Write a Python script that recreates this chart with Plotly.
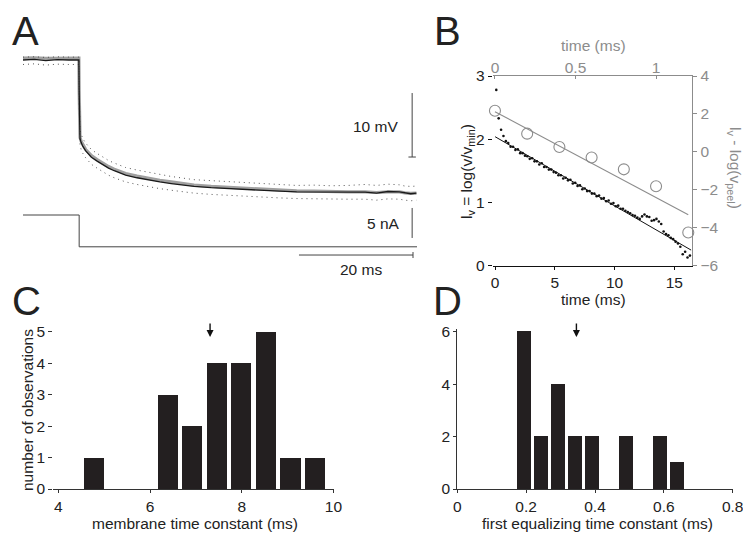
import plotly.graph_objects as go

W, H = 751, 540
OFF = 8  # the page body margin shifts the figure by this many pixels

# ---------------- Panel A data (time in ms, voltage in mV rel. baseline, current nA)
tA = [0, 2, 4, 6, 8, 9.8, 9.85, 9.9, 10.0, 10.2, 10.5, 11, 11.5, 12, 13, 14, 15, 16,
      18, 20, 22, 24, 26, 28, 30, 33, 36, 39, 42, 45, 48, 51, 54, 57, 60, 62, 64, 66, 67, 68, 69]
vMean = [0.0, 0.1, -0.1, 0.05, 0.0, 0.0, -5.0, -11.0, -12.3, -12.9, -13.5,
         -14.2, -14.7, -15.2, -15.8, -16.4, -16.9, -17.3,
         -18.0, -18.4, -18.75, -19.05, -19.3, -19.55, -19.75,
         -19.95, -20.1, -20.3, -20.4, -20.5, -20.6, -20.6, -20.7, -20.7, -20.65,
         -20.8, -20.55, -20.6, -20.8, -20.9, -20.8]
vGray = [0.3, 0.35, 0.25, 0.3, 0.3, 0.3, -4.8, -10.8, -12.1, -12.7, -13.3,
         -14.0, -14.45, -14.95, -15.55, -16.15, -16.65, -17.05,
         -17.75, -18.15, -18.5, -18.8, -19.05, -19.3, -19.55,
         -19.75, -19.9, -20.1, -20.25, -20.35, -20.45, -20.5, -20.6, -20.6, -20.6,
         -20.7, -20.6, -20.6, -20.75, -20.85, -20.8]
vUpper = [0.45, 0.5, 0.4, 0.5, 0.45, 0.45, -3.8, -9.8, -11.0, -11.6, -12.3,
          -13.0, -13.5, -14.0, -14.6, -15.2, -15.7, -16.1,
          -16.8, -17.2, -17.55, -17.9, -18.2, -18.45, -18.7,
          -18.85, -19.0, -19.2, -19.35, -19.5, -19.6, -19.55, -19.65, -19.6, -19.45,
          -19.6, -19.4, -19.5, -19.7, -19.75, -19.7]
vLower = [-0.7, -0.6, -0.8, -0.65, -0.7, -0.7, -6.5, -12.0, -13.3, -14.0, -14.6,
          -15.3, -15.8, -16.3, -16.9, -17.5, -18.0, -18.4,
          -19.05, -19.45, -19.8, -20.1, -20.35, -20.6, -20.8,
          -21.0, -21.15, -21.35, -21.45, -21.55, -21.65, -21.7, -21.8, -21.75, -21.75,
          -21.9, -21.7, -21.75, -21.9, -22.0, -21.9]
tCur = [0, 9.85, 9.85, 69.1]
iCur = [0, 0, -5.3, -5.3]

# ---------------- Panel B data
tB = [0.1, 0.3, 0.5, 0.7, 0.9, 1.1, 1.3, 1.5, 1.7, 1.9,
      2.1, 2.3, 2.5, 2.7, 2.9, 3.1, 3.3, 3.5, 3.7, 3.9,
      4.1, 4.3, 4.5, 4.7, 4.9, 5.1, 5.3, 5.5, 5.7, 5.9,
      6.1, 6.3, 6.5, 6.7, 6.9, 7.1, 7.3, 7.5, 7.7, 7.9,
      8.1, 8.3, 8.5, 8.7, 8.9, 9.1, 9.3, 9.5, 9.7, 9.9,
      10.1, 10.3, 10.5, 10.7, 10.9, 11.1, 11.3, 11.5, 11.7, 11.9,
      12.1, 12.3, 12.5, 12.7, 12.9, 13.1, 13.3, 13.5, 13.7, 13.9,
      14.1, 14.3, 14.5, 14.7, 14.9, 15.1, 15.3, 15.5, 15.7, 15.9,
      16.1, 16.3]
lvB = [2.78, 2.33, 2.15, 2.05, 1.97, 1.94, 1.88, 1.88, 1.83, 1.84,
       1.78, 1.78, 1.74, 1.73, 1.69, 1.70, 1.65, 1.65, 1.60, 1.62,
       1.56, 1.56, 1.52, 1.52, 1.48, 1.47, 1.43, 1.43, 1.38, 1.39,
       1.35, 1.36, 1.30, 1.31, 1.26, 1.27, 1.21, 1.22, 1.18, 1.18,
       1.14, 1.14, 1.10, 1.11, 1.06, 1.07, 1.02, 1.03, 0.98, 0.99,
       0.94, 0.95, 0.90, 0.90, 0.87, 0.85, 0.83, 0.80, 0.79, 0.76,
       0.74, 0.78, 0.81, 0.78, 0.77, 0.71, 0.72, 0.74, 0.70, 0.66,
       0.54, 0.50, 0.48, 0.44, 0.42, 0.38, 0.35, 0.30, 0.18, 0.22,
       0.13, 0.16]
tFit = [0, 16.4]
lvFit = [2.04, 0.247]
tPeel = [0, 0.2, 0.4, 0.6, 0.8, 1.0, 1.2]
peel = [2.17, 0.96, 0.26, -0.30, -0.92, -1.81, -4.25]
tPeelFit = [0, 1.2]
peelFit = [2.12, -3.31]

# ---------------- Panel C data
tauM_centers = [4.79, 5.33, 5.86, 6.40, 6.93, 7.47, 8.00, 8.54, 9.07, 9.61]
tauM_counts = [1, 0, 0, 3, 2, 4, 4, 5, 1, 1]
tauM_mean = 7.31

# ---------------- Panel D data
tau1_centers = [0.194, 0.2435, 0.293, 0.3425, 0.392, 0.4415, 0.491, 0.5405, 0.590, 0.6395]
tau1_counts = [6, 2, 4, 2, 2, 0, 2, 0, 2, 1]
tau1_mean = 0.346

FONT = "Liberation Sans, Arial, sans-serif"
GRAY = "#8c8c8c"
AX = "#333333"
FS = 15.5


def px(x):
    return (x - OFF) / W


def py(y):
    return 1 - (y - OFF) / H


fig = go.Figure()

# Panel A traces
fig.add_trace(go.Scatter(x=tA, y=vGray, mode="lines", line=dict(color="#a0a0a0", width=3.2),
                         xaxis="x", yaxis="y", showlegend=False))
fig.add_trace(go.Scatter(x=tA, y=vUpper, mode="lines", line=dict(color="#555", width=1, dash="1px,4px"),
                         xaxis="x", yaxis="y", showlegend=False))
fig.add_trace(go.Scatter(x=tA, y=vLower, mode="lines", line=dict(color="#555", width=1, dash="1px,4px"),
                         xaxis="x", yaxis="y", showlegend=False))
fig.add_trace(go.Scatter(x=tA, y=vMean, mode="lines", line=dict(color="#1a1a1a", width=1.3),
                         xaxis="x", yaxis="y", showlegend=False))
fig.add_trace(go.Scatter(x=tCur, y=iCur, mode="lines", line=dict(color="#444", width=1),
                         xaxis="x", yaxis="y6", showlegend=False))

# Panel B traces
fig.add_trace(go.Scatter(x=tFit, y=lvFit, mode="lines", line=dict(color="#111", width=1),
                         xaxis="x2", yaxis="y2", showlegend=False))
fig.add_trace(go.Scatter(x=tB, y=lvB, mode="markers", marker=dict(color="#111", size=2.6),
                         xaxis="x2", yaxis="y2", showlegend=False))
fig.add_trace(go.Scatter(x=tPeelFit, y=peelFit, mode="lines", line=dict(color=GRAY, width=1.1),
                         xaxis="x3", yaxis="y3", showlegend=False))
fig.add_trace(go.Scatter(x=tPeel, y=peel, mode="markers",
                         marker=dict(symbol="circle-open", color=GRAY, size=11, line=dict(width=1.1)),
                         xaxis="x3", yaxis="y3", showlegend=False, cliponaxis=False))

# Panel C
fig.add_trace(go.Bar(x=tauM_centers, y=tauM_counts, width=0.44,
                     marker=dict(color="#231f20", line=dict(width=0)),
                     xaxis="x4", yaxis="y4", showlegend=False))
# Panel D
fig.add_trace(go.Bar(x=tau1_centers, y=tau1_counts, width=0.041,
                     marker=dict(color="#231f20", line=dict(width=0)),
                     xaxis="x5", yaxis="y5", showlegend=False))

tickfont = dict(family=FONT, size=FS, color="#222")
grayfont = dict(family=FONT, size=FS, color=GRAY)

layout = dict(
    width=W, height=H, margin=dict(l=0, r=0, t=0, b=0, autoexpand=False),
    template="none",
    paper_bgcolor="white", plot_bgcolor="rgba(0,0,0,0)",
    font=dict(family=FONT, size=FS, color="#222"),
    bargap=0,
    # Panel A
    xaxis=dict(domain=[px(23), px(417)], range=[0, 69.1], visible=False, automargin=False),
    yaxis=dict(domain=[py(275), py(30)], range=[(60 - 275) / 6.4, (60 - 30) / 6.4], visible=False,
               automargin=False),
    yaxis6=dict(domain=[py(275), py(30)], range=[(215 - 275) / 6.0, (215 - 30) / 6.0], visible=False,
                anchor="x", automargin=False),
    # Panel B
    xaxis2=dict(domain=[px(492.7), px(692.3)], range=[-0.2, 16.5], anchor="y2", automargin=False,
                tickvals=[0, 5, 10, 15], ticks="outside", ticklen=3, tickcolor="#111",
                showline=True, linecolor="#111", linewidth=1, showgrid=False, zeroline=False,
                tickfont=tickfont),
    yaxis2=dict(domain=[py(265.7), py(76)], range=[0, 3], anchor="x2", automargin=False,
                tickvals=[0, 1, 2, 3], ticks="outside", ticklen=4, tickcolor="#111",
                showline=False, showgrid=False, zeroline=False, tickfont=tickfont),
    xaxis3=dict(overlaying="x2", side="top", anchor="y2", range=[-0.014, 1.225], automargin=False,
                tickvals=[0, 0.5, 1], ticktext=["0", "0.5", "1"], ticks="inside", ticklen=3,
                ticklabelstandoff=-4,
                tickcolor=GRAY, showline=True, linecolor=GRAY, linewidth=1,
                showgrid=False, zeroline=False, tickfont=grayfont),
    yaxis3=dict(overlaying="y2", side="right", anchor="x2", range=[-6, 4], automargin=False,
                tickvals=[-6, -4, -2, 0, 2, 4], ticks="outside", ticklen=4, tickcolor=GRAY,
                showline=True, linecolor=GRAY, linewidth=1, showgrid=False, zeroline=False,
                tickfont=grayfont),
    # Panel C
    xaxis4=dict(domain=[px(53.3), px(334.3)], range=[3.89, 10.02], anchor="y4", automargin=False,
                tickvals=[4, 6, 8, 10], ticks="outside", ticklen=3, tickcolor=AX,
                showline=True, linecolor=AX, linewidth=1, showgrid=False, zeroline=False,
                tickfont=tickfont),
    yaxis4=dict(domain=[py(489), py(329)], range=[0, 160 / 31.46], anchor="x4", automargin=False,
                tickvals=[0, 1, 2, 3, 4, 5], ticks="outside", ticklen=4, tickcolor=AX,
                showline=False, showgrid=False, zeroline=False, tickfont=tickfont),
    # Panel D
    xaxis5=dict(domain=[px(457.3), px(732.7)], range=[0, 0.8], anchor="y5", automargin=False,
                tickvals=[0, 0.2, 0.4, 0.6, 0.8], ticktext=["0", "0.2", "0.4", "0.6", "0.8"],
                ticks="outside", ticklen=3, tickcolor=AX,
                showline=True, linecolor=AX, linewidth=1, showgrid=False, zeroline=False,
                tickfont=tickfont),
    yaxis5=dict(domain=[py(489), py(329.3)], range=[0, 159.7 / 26.22], anchor="x5", automargin=False,
                tickvals=[0, 2, 4, 6], ticks="outside", ticklen=3, tickcolor=AX,
                showline=True, linecolor=AX, linewidth=1, showgrid=False, zeroline=False,
                tickfont=tickfont),
)
fig.update_layout(**layout)

# Scale bars (panel A), in data units of the panel's axes
bar = dict(color="#444", width=1)
shapes = [
    dict(type="line", xref="x", yref="y", x0=68.25, x1=68.25, y0=-5.16, y1=-15.16, line=bar),
    dict(type="line", xref="x", yref="y", x0=67.6, x1=68.9, y0=-15.16, y1=-15.16, line=bar),
    dict(type="line", xref="x", yref="y6", x0=68.25, x1=68.25, y0=1.17, y1=-3.83, line=bar),
    dict(type="line", xref="x", yref="y6", x0=48.4, x1=68.4, y0=-6.67, y1=-6.67, line=bar),
    dict(type="line", xref="x", yref="y6", x0=68.4, x1=68.4, y0=-6.17, y1=-7.17, line=bar),
]
fig.update_layout(shapes=shapes)


def ann(text, x, y, size=FS, color="#222", angle=0, xanchor="center", yanchor="middle"):
    return dict(text=text, x=px(x), y=py(y), xref="paper", yref="paper", showarrow=False,
                font=dict(family=FONT, size=size, color=color), textangle=angle,
                xanchor=xanchor, yanchor=yanchor)


annotations = [
    ann("A", 25, 31, size=40),
    ann("B", 447, 31, size=40),
    ann("C", 26, 301, size=40),
    ann("D", 447, 301, size=40),
    ann("10 mV", 375, 126),
    ann("5 nA", 383, 223),
    ann("20 ms", 361, 269),
    ann("l<sub>v</sub> = log(v/v<sub>min</sub>)", 467, 172, angle=-90),
    ann("l<sub>v</sub> - log(v<sub>peel</sub>)", 735, 168, color=GRAY, angle=90),
    ann("time (ms)", 593, 45, color=GRAY),
    ann("time (ms)", 593, 299),
    ann("number of observations", 27, 410, angle=-90),
    ann("membrane time constant (ms)", 195, 523),
    ann("first equalizing time constant (ms)", 597, 523),
    dict(x=tauM_mean, y=(489 - 337) / 31.46, xref="x4", yref="y4", ax=0, ay=-15,
         showarrow=True, arrowhead=2, arrowsize=1, arrowwidth=1.4, arrowcolor="#111", text=""),
    dict(x=tau1_mean, y=(489 - 337) / 26.22, xref="x5", yref="y5", ax=0, ay=-15,
         showarrow=True, arrowhead=2, arrowsize=1, arrowwidth=1.4, arrowcolor="#111", text=""),
]
fig.update_layout(annotations=annotations)

fig.write_html("out.html")
